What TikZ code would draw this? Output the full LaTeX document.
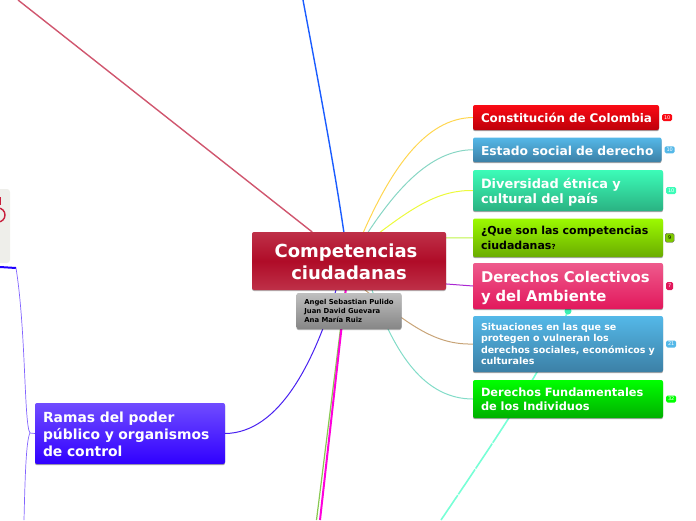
\documentclass[tikz,border=0pt]{standalone}
\usepackage{xcolor}
\usepackage{fontspec}
\setmainfont{DejaVu Sans}
\usepackage{tikz}
\usetikzlibrary{positioning,shadows,backgrounds}
\definecolor{redtop}{RGB}{250,10,20}
\definecolor{redbot}{RGB}{190,0,10}
\definecolor{bluetop}{RGB}{84,184,232}
\definecolor{bluebot}{RGB}{60,128,166}
\definecolor{aquatop}{RGB}{60,252,184}
\definecolor{aquabot}{RGB}{42,178,130}
\definecolor{limetop}{RGB}{156,250,0}
\definecolor{limebot}{RGB}{106,172,0}
\definecolor{pinktop}{RGB}{238,90,140}
\definecolor{pinkbot}{RGB}{226,24,92}
\definecolor{greentop}{RGB}{0,255,0}
\definecolor{greenbot}{RGB}{0,176,0}
\definecolor{violettop}{RGB}{112,76,255}
\definecolor{violetbot}{RGB}{48,0,255}
\definecolor{crimson}{RGB}{176,12,40}
\definecolor{crimsonedge}{RGB}{190,48,72}
\definecolor{cutred}{RGB}{200,30,60}
\definecolor{forkviolet}{RGB}{130,100,255}
\tikzset{
  topicbox/.style={rounded corners=2pt, text=white, font=\bfseries, align=left,
                   anchor=north west, inner sep=0pt, inner xsep=8pt, outer sep=0pt,
                   drop shadow={shadow xshift=0pt, shadow yshift=-1.2pt, opacity=0.35, fill=black}},
  countbadge/.style={rounded corners=1.5pt, minimum width=10pt, minimum height=7pt, inner sep=0pt,
                     font=\fontsize{5}{5}\selectfont, text=white},
  link/.style={line width=1pt}
}
\begin{document}
\begin{tikzpicture}[x=1pt, y=-1pt]
  \useasboundingbox (0,0) rectangle (696,520);

  % free ends of the cut links
  \coordinate (topred) at (18,0);
  \coordinate (topblue) at (303,0);
  \coordinate (botmag) at (320,520);
  \coordinate (botgreen) at (316.5,520);
  \coordinate (botaqua) at (441,520);
  \coordinate (dotaqua) at (568,311);
  \coordinate (leftup) at (16,268);
  \coordinate (leftdown) at (24,520);
  \coordinate (leftedge) at (0,267);
  \coordinate (fork) at (30,433);
  \coordinate (limestart) at (440,238);
  \coordinate (purplestart) at (440,283.5);

  % Centre
  \node[rounded corners=2pt, top color=crimsonedge, bottom color=crimsonedge, middle color=crimson,
        minimum width=194pt, minimum height=58pt, text=white, font=\fontsize{18}{22}\selectfont\bfseries,
        align=center, anchor=north west, inner sep=0pt, outer sep=0pt,
        drop shadow={shadow xshift=0pt, shadow yshift=-1pt, opacity=0.3, fill=black}] (centre) at (252,232)
        {\rule{0pt}{15.7pt}Competencias\hspace*{6pt}\\ ciudadanas};
  \node[rounded corners=2pt, top color=gray!50, bottom color=gray!95, minimum width=105pt, minimum height=36pt,
        font=\fontsize{6.85}{8.6}\selectfont\bfseries, align=left, text=black, inner sep=0pt, outer sep=0pt,
        drop shadow={shadow xshift=0pt, shadow yshift=-1pt, opacity=0.3, fill=black},
        below=3pt of centre.south, xshift=0pt] (names)
        {Angel Sebastian Pulido\\Juan David Guevara\\Ana María Ruiz};

  % Right column
  \node[topicbox, top color=redtop, bottom color=redbot, text width=170pt, minimum height=25pt,
        font=\fontsize{11.9}{14}\selectfont\bfseries] (const) at (473,105) {\mbox{Constitución de Colombia}};
  \node[topicbox, top color=bluetop, bottom color=bluebot, text width=172.5pt, minimum height=24.5pt,
        font=\fontsize{12.3}{14}\selectfont\bfseries, below=7.5pt of const.south west, anchor=north west] (estado) {\rule{0pt}{11.3pt}Estado social de derecho};
  \node[topicbox, top color=aquatop, bottom color=aquabot, text width=174pt, minimum height=41pt,
        font=\fontsize{12.9}{15}\selectfont\bfseries, below=8pt of estado.south west, anchor=north west] (diversidad) {\rule{0pt}{13.8pt}Diversidad étnica y\\cultural del país};
  \node[topicbox, top color=limetop, bottom color=limebot, text=black, text width=174pt, minimum height=38.5pt,
        font=\fontsize{11}{15}\selectfont\bfseries, below=7.5pt of diversidad.south west, anchor=north west] (que) {¿Que son las competencias\\ciudadanas{\fontsize{7}{7}\selectfont?}};
  \node[topicbox, top color=pinktop, bottom color=pinkbot, text width=174pt, minimum height=46pt,
        font=\fontsize{14.8}{19}\selectfont\bfseries, below=6pt of que.south west, anchor=north west] (colectivos) {\rule{0pt}{15.2pt}Derechos Colectivos\\y del Ambiente};
  \node[topicbox, top color=bluetop, bottom color=bluebot, text width=174pt, minimum height=56pt,
        font=\fontsize{9.5}{11.5}\selectfont\bfseries, below=7pt of colectivos.south west, anchor=north west] (situaciones) {Situaciones en las que se\\protegen o vulneran los\\derechos sociales, económicos y\\culturales};
  \node[topicbox, top color=greentop, bottom color=greenbot, text width=174pt, minimum height=38pt,
        font=\fontsize{11.4}{14}\selectfont\bfseries, below=8pt of situaciones.south west, anchor=north west] (fundamentales) {Derechos Fundamentales\\de los Individuos};

  % Left
  \node[topicbox, top color=violettop, bottom color=violetbot, text width=174pt, minimum height=61pt,
        font=\fontsize{13.9}{17}\selectfont\bfseries] (ramas) at (35,403) {\rule{0pt}{12.6pt}Ramas del poder\\público y organismos\\de control};
  \node[fill={rgb,255:red,238;green,238;blue,234}, rounded corners=3pt, minimum width=30pt, minimum height=74pt, inner sep=0pt,
        outer sep=0pt, anchor=north east] (hidden) at (10,189) {};
  \draw[line width=1.4pt, cutred] (-2,222) arc (90:-90:7);
  \fill[cutred] (-2,197) rectangle (1,205);

  % Badges
  \foreach \n/\txt/\col in {const/10/redtop,estado/10/bluetop,diversidad/10/aquatop,situaciones/21/bluetop,fundamentales/32/greentop}{
    \node[countbadge, fill=\col, right=3pt of \n] (badge\n) {\txt};
  }
  \node[countbadge, fill=pinkbot, minimum width=7pt, minimum height=8pt, right=3pt of colectivos] (badgecolectivos) {7};
  \node[countbadge, fill=limetop!80!black, draw=gray!70!black, text=black, minimum width=9pt, minimum height=9pt,
        right=2pt of que] (badgeque) {9};

  \begin{scope}[on background layer]
    % links cut by the edge
    \draw[line width=1.4pt, color={rgb,255:red,208;green,86;blue,110}] (topred) -- (centre);
    \draw[line width=1.4pt, color={rgb,255:red,26;green,92;blue,255}] (topblue) .. controls (318,80) and (335,170) .. (345,240);
    \draw[line width=1.6pt, dash pattern=on 30pt off 1pt, color={rgb,255:red,120;green,255;blue,214}] (botaqua) .. controls (510,418) and (545,365) .. (dotaqua);
    \fill[color={rgb,255:red,60;green,240;blue,180}] (dotaqua) circle (3.5);
    \draw[line width=1.2pt, color={rgb,255:red,136;green,200;blue,80}] (botgreen) -- (centre);
    \draw[line width=2pt, color={rgb,255:red,255;green,0;blue,220}] (botmag) -- (centre);

    % Links to the right
    \draw[link, color={rgb,255:red,255;green,214;blue,80}] (360,240) .. controls (390,170) and (425,118) .. (const.west);
    \draw[link, color={rgb,255:red,136;green,214;blue,196}] (363,240) .. controls (395,190) and (430,150) .. (estado.west);
    \draw[link, color={rgb,255:red,236;green,250;blue,60}] (370,240) .. controls (415,205) and (440,190) .. (diversidad.west);
    \draw[link, color={rgb,255:red,190;green,245;blue,70}] (limestart) -- (que.west);
    \draw[link, color={rgb,255:red,170;green,40;blue,210}] (purplestart) -- (colectivos.west);
    \draw[link, color={rgb,255:red,200;green,164;blue,120}] (365,290) .. controls (410,325) and (435,345) .. (situaciones.west);
    \draw[link, color={rgb,255:red,130;green,220;blue,200}] (372,290) .. controls (395,355) and (425,399) .. (fundamentales.west);
    \draw[link, color={rgb,255:red,72;green,32;blue,240}] (336,290) .. controls (315,360) and (280,433) .. (ramas.east);

    % Left fork
    \draw[line width=2pt, color={rgb,255:red,30;green,0;blue,255}] (leftedge) -- (leftup);
    \draw[line width=0.7pt, forkviolet] (ramas.west) -- (fork) .. controls (24,425) and (26,330) .. (leftup);
    \draw[line width=0.7pt, forkviolet] (fork) .. controls (26,440) and (25,480) .. (leftdown);
  \end{scope}
\end{tikzpicture}
\end{document}
